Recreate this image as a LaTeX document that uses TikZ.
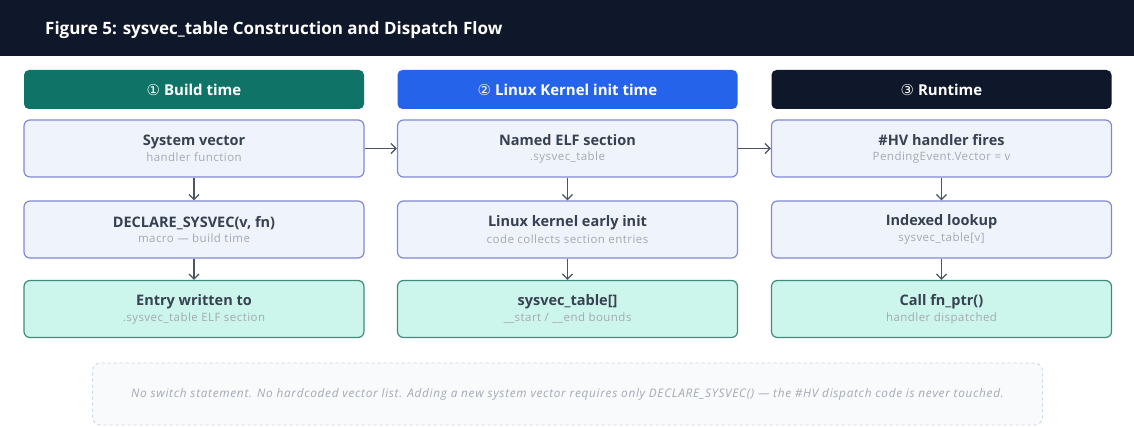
\documentclass[tikz,border=0pt]{standalone}
\usepackage{fontspec}
\setmainfont{Open Sans}
\newfontfamily\symf{DejaVu Sans}
\newfontfamily\subf[LetterSpace=4]{Open Sans}
\newfontfamily\notef[LetterSpace=6]{Open Sans}
\usetikzlibrary{arrows.meta}

\definecolor{navy}{HTML}{0F172A}
\definecolor{tealhead}{HTML}{0F7467}
\definecolor{bluehead}{HTML}{2563EB}
\definecolor{procfill}{HTML}{EFF3FC}
\definecolor{procline}{HTML}{8189D6}
\definecolor{resfill}{HTML}{CCF6EB}
\definecolor{resline}{HTML}{3F8C7E}
\definecolor{titletext}{HTML}{374151}
\definecolor{subtext}{HTML}{A3A9B3}
\definecolor{arrowc}{HTML}{4B5563}
\definecolor{notefill}{HTML}{F8FAFC}
\definecolor{noteline}{HTML}{CBD5E1}

\begin{document}
\begin{tikzpicture}[x=1pt,y=-1pt,
  header/.style={rounded corners=5pt, minimum width=340pt, minimum height=39pt,
    text=white, font=\fontsize{15}{17}\selectfont\bfseries, inner sep=0pt},
  procbox/.style={rounded corners=6pt, draw=procline, line width=1.2pt, fill=procfill,
    minimum width=340pt, minimum height=57pt, align=center, inner sep=0pt},
  resbox/.style={procbox, draw=resline, fill=resfill},
  flow/.style={draw=arrowc, line width=1.3pt, -{Straight Barb[length=5pt,width=10pt]}},
]
\useasboundingbox (0,0) rectangle (1134,427);
\fill[white] (0,0) rectangle (1134,427);

% title bar
\fill[navy] (0,0) rectangle (1134,56);
\node[anchor=west, text=white, font=\fontsize{17}{19}\selectfont\bfseries, inner sep=0pt]
  (title) at (45,30) {Figure 5: sysvec\_table Construction and Dispatch Flow};

\newcommand{\boxtext}[2]{{\fontsize{14.5}{16}\selectfont\bfseries\color{titletext}#1}\\[3pt]{\subf\fontsize{11.5}{13}\selectfont\color{subtext}#2}}

% column headers
\node[header, fill=tealhead] (h1) at (194,89.5) {{\symf\mdseries ①} Build time};
\node[header, fill=bluehead] (h2) at (567.5,89.5) {{\symf\mdseries ②} Linux Kernel init time};
\node[header, fill=navy] (h3) at (941.5,89.5) {{\symf\mdseries ③} Runtime};

% build time
\node[procbox] (a1) at (194,148.5) {\boxtext{System vector}{handler function}};
\node[procbox] (a2) at (194,229.5) {\boxtext{DECLARE\_SYSVEC(v, fn)}{macro — build time}};
\node[resbox]  (a3) at (194,309) {\boxtext{Entry written to}{.sysvec\_table ELF section}};

% kernel init time
\node[procbox] (b1) at (567.5,148.5) {\boxtext{Named ELF section}{.sysvec\_table}};
\node[procbox] (b2) at (567.5,229.5) {\boxtext{Linux kernel early init}{code collects section entries}};
\node[resbox]  (b3) at (567.5,309) {\boxtext{sysvec\_table[]}{\_\_start / \_\_end bounds}};

% runtime
\node[procbox] (c1) at (941.5,148.5) {\boxtext{\#HV handler fires}{PendingEvent.Vector = v}};
\node[procbox] (c2) at (941.5,229.5) {\boxtext{Indexed lookup}{sysvec\_table[v]}};
\node[resbox]  (c3) at (941.5,309) {\boxtext{Call fn\_ptr()}{handler dispatched}};

% connectors
\draw[flow] (a1) -- (a2);
\draw[flow] (a2) -- (a3);
\draw[flow] (b1) -- (b2);
\draw[flow] (b2) -- (b3);
\draw[flow] (c1) -- (c2);
\draw[flow] (c2) -- (c3);
\draw[flow] (a1) -- (b1);
\draw[flow] (b1) -- (c1);

% note
\node[draw=noteline, dashed, fill=notefill, rounded corners=8pt, line width=0.8pt,
  minimum width=950pt, minimum height=62pt, inner sep=0pt,
  font=\notef\fontsize{11.8}{13}\selectfont\itshape, text=subtext] (note) at (567.5,394)
  {No switch statement. No hardcoded vector list. Adding a new system vector requires only DECLARE\_SYSVEC() — the \#HV dispatch code is never touched.};
\end{tikzpicture}
\end{document}
